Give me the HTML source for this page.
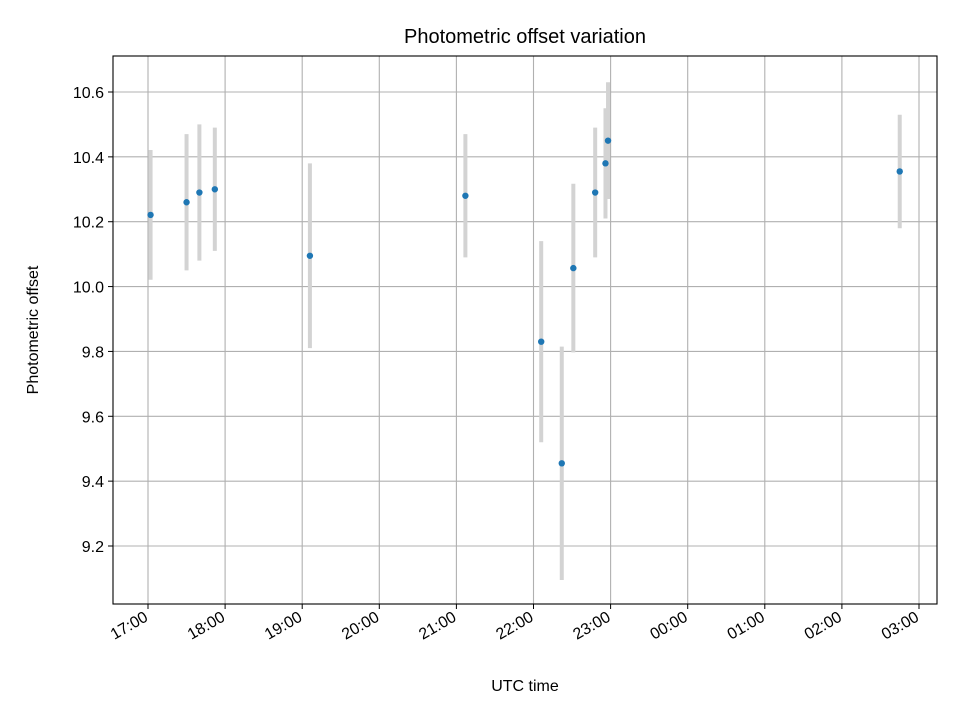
<!DOCTYPE html>
<html><head><meta charset="utf-8"><style>
body{margin:0;background:#fff;}
svg text{font-family:"Liberation Sans","DejaVu Sans",sans-serif;fill:#000;}
</style></head><body>
<svg id="chart" width="960" height="720" xmlns="http://www.w3.org/2000/svg">
<rect width="960" height="720" fill="#fff"/>
<g id="grid"></g><g id="marks"></g><g id="axes"></g>
<text x="525" y="43" font-size="20" text-anchor="middle">Photometric offset variation</text>
<text x="525" y="691" font-size="16" text-anchor="middle">UTC time</text>
<text transform="translate(38,330) rotate(-90)" font-size="16" text-anchor="middle">Photometric offset</text>
</svg>
<script>
// minutes since 17:00 UTC
const times=[2,30,40,52,126,247,306,322,331,348,356,358,585];
const offsets=[10.221,10.26,10.29,10.30,10.095,10.28,9.83,9.455,10.057,10.29,10.38,10.45,10.355];
const errors=[0.20,0.21,0.21,0.19,0.285,0.19,0.31,0.36,0.26,0.20,0.17,0.18,0.175];
const yTicks=[9.2,9.4,9.6,9.8,10.0,10.2,10.4,10.6];
const xTickLabels=["17:00","18:00","19:00","20:00","21:00","22:00","23:00","00:00","01:00","02:00","03:00"];
const L=113,R=937,T=56,B=604;
const X=m=>148+m*(771/600);
const Y=v=>92+(10.6-v)*(454/1.4);
const NS="http://www.w3.org/2000/svg";
function mk(tag,attrs,parent){const e=document.createElementNS(NS,tag);for(const k in attrs)e.setAttribute(k,attrs[k]);parent.appendChild(e);return e;}
const grid=document.getElementById('grid'),marks=document.getElementById('marks'),axes=document.getElementById('axes');
yTicks.forEach(v=>{
 const y=Y(v);
 const g=mk('line',{x1:L,x2:R,y1:y,y2:y,stroke:'#b0b0b0','stroke-width':1.1},grid);
 
 
 mk('line',{x1:L-5,x2:L,y1:y,y2:y,stroke:'#000','stroke-width':1},axes);
 const t=mk('text',{x:L-9,y:y+6,'font-size':16,'text-anchor':'end'},axes);
 t.textContent=v.toFixed(1);
 
 
});
xTickLabels.forEach((lab,i)=>{
 const x=X(i*60);
 const g=mk('line',{x1:x,x2:x,y1:T,y2:B,stroke:'#b0b0b0','stroke-width':1.1},grid);
 
 
 mk('line',{x1:x,x2:x,y1:B,y2:B+5,stroke:'#000','stroke-width':1},axes);
 const t=mk('text',{transform:`translate(${x+1},${B+16}) rotate(-30)`,'font-size':16,'text-anchor':'end'},axes);
 t.textContent=lab;
 
 
});
const fr=mk('rect',{x:L,y:T,width:R-L,height:B-T,fill:'none',stroke:'#000','stroke-width':1.1},axes);


times.forEach((m,i)=>{
 const x=X(m);
 const e=mk('line',{x1:x,x2:x,y1:Y(offsets[i]+errors[i]),y2:Y(offsets[i]-errors[i]),stroke:'#d3d3d3','stroke-width':4},marks);
 
 
});
times.forEach((m,i)=>{
 const p=mk('circle',{cx:X(m),cy:Y(offsets[i]),r:3.2,fill:'#1f77b4'},marks);
 
 
});
</script>
</body></html>
